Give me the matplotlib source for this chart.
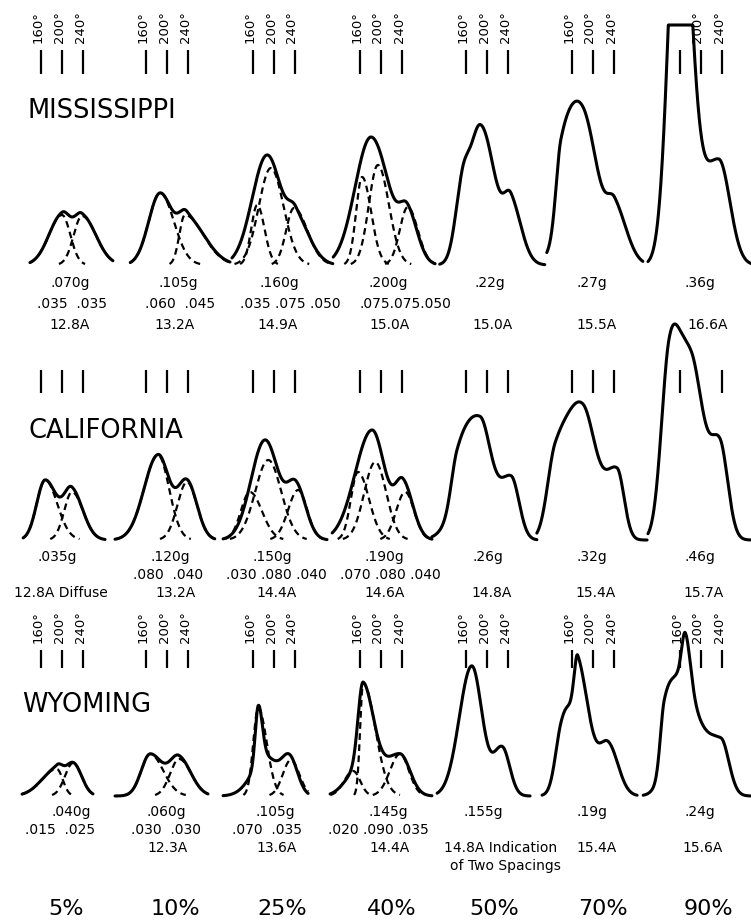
import numpy as np
import matplotlib
matplotlib.use("Agg")
import matplotlib.pyplot as plt

plt.rcParams['font.family'] = ['DejaVu Sans']

# ---------------- data ----------------
PERCENTS = ["5%", "10%", "25%", "40%", "50%", "70%", "90%"]
ROW_NAMES = ["MISSISSIPPI", "CALIFORNIA", "WYOMING"]
TICK_DEGREES = [160, 200, 240]

# peaks: (centre in degrees, height, sigma left, sigma right)
MISS_SOLID = [
    [(200, 50, 24.8, 15.8), (238, 49, 15.8, 26.7)],
    [(187, 72, 21.9, 24.8), (238, 45, 15.2, 35.2)],
    [(187, 110, 28.6, 28.0), (242, 42, 15.2, 26.7)],
    [(181, 128, 30.5, 34.3), (251, 45, 15.2, 19.0)],
    [(152, 50, 13.3, 11.4), (187, 140, 22.9, 28.6), (246, 55, 13.3, 20.0)],
    [(139, 70, 9.5, 22.9), (181, 145, 30.5, 28.6), (242, 52, 15.2, 22.9)],
    [(158, 420, 19.0, 21.9), (234, 105, 34.3, 21.0)],
]
MISS_DASHED = [
    [(200, 50, 24.8, 15.8), (238, 49, 15.8, 26.7)],
    [(187, 72, 21.9, 26.1), (234, 50, 10.5, 35.2)],
    [(168, 60, 11.4, 13.9), (194, 97, 22.9, 24.2), (238, 57, 14.9, 25.5)],
    [(164, 88, 11.4, 17.1), (194, 100, 17.1, 21.0), (251, 58, 15.2, 19.0)],
    [], [], [],
]
MISS_EXTENT = [(139, 297), (130, 320), (120, 312), (109, 303), (110, 310), (112, 295), (99, 299)]
MISS_CLIP = [None, None, None, None, None, None, 240]
MISS_TOTAL = [".070g", ".105g", ".160g", ".200g", ".22g", ".27g", ".36g"]
MISS_PARTS = [".035  .035", ".060  .045", ".035 .075 .050", ".075.075.050", "", "", ""]
MISS_SPACING = ["12.8A", "13.2A", "14.9A", "15.0A", "15.0A", "15.5A", "16.6A"]

CAL_SOLID = [
    [(168, 60, 16.2, 22.9), (219, 48, 14.9, 21.0)],
    [(183, 85, 26.7, 21.0), (238, 58, 18.1, 19.0)],
    [(183, 100, 26.7, 25.7), (242, 52, 17.1, 19.0)],
    [(183, 110, 32.4, 24.8), (242, 55, 15.2, 19.0)],
    [(143, 40, 11.4, 22.9), (187, 115, 34.3, 21.0), (246, 62, 22.9, 15.2)],
    [(128, 70, 15.2, 26.7), (181, 125, 30.5, 24.8), (246, 68, 22.9, 13.3)],
    [(139, 150, 15.2, 19.0), (181, 175, 26.7, 22.9), (236, 92, 19.0, 15.2)],
]
CAL_DASHED = [
    [(168, 60, 16.2, 22.9), (219, 48, 14.9, 21.0)],
    [(183, 85, 26.7, 21.0), (238, 58, 18.1, 19.0)],
    [(154, 48, 17.1, 22.9), (189, 80, 24.8, 24.8), (246, 50, 19.0, 17.1)],
    [(156, 68, 13.3, 21.0), (189, 78, 21.0, 21.0), (246, 48, 17.1, 17.1)],
    [], [], [],
]
CAL_EXTENT = [(126, 282), (101, 291), (103, 301), (107, 297), (95, 295), (93, 303), (99, 295)]
CAL_CLIP = [None] * 7
CAL_TOTAL = [".035g", ".120g", ".150g", ".190g", ".26g", ".32g", ".46g"]
CAL_PARTS = ["", ".080  .040", ".030 .080 .040", ".070 .080 .040", "", "", ""]
CAL_SPACING = ["12.8A Diffuse", "13.2A", "14.4A", "14.6A", "14.8A", "15.4A", "15.7A"]

WYO_SOLID = [
    [(190, 27, 28.6, 11.4), (221, 33, 15.2, 16.2)],
    [(168, 42, 17.1, 24.8), (223, 37, 17.1, 22.9)],
    [(170, 58, 5.7, 7.6), (185, 38, 26.7, 22.9), (230, 36, 15.2, 15.2)],
    [(166, 90, 9.5, 21.0), (154, 24, 22.9, 22.9), (236, 42, 30.5, 19.0)],
    [(171, 130, 23.8, 19.6), (229, 48, 17.1, 14.3)],
    [(139, 40, 11.4, 15.2), (162, 70, 19.0, 26.7), (171, 70, 6.7, 21.0), (229, 50, 17.1, 19.0)],
    [(130, 55, 7.6, 15.2), (162, 108, 22.9, 28.6), (170, 50, 6.7, 9.5), (238, 55, 34.3, 15.2)],
]
WYO_DASHED = [
    [(190, 27, 28.6, 11.4), (221, 33, 15.2, 16.2)],
    [(168, 42, 17.1, 24.8), (223, 37, 17.1, 22.9)],
    [(170, 88, 9.5, 16.2), (232, 36, 15.2, 16.2)],
    [(147, 25, 17.1, 13.3), (166, 113, 5.7, 22.9), (236, 42, 19.0, 17.1)],
    [], [], [],
]
WYO_EXTENT = [(124, 259), (101, 278), (103, 265), (103, 297), (105, 282), (103, 284), (90, 295)]
WYO_CLIP = [None] * 7
WYO_TOTAL = [".040g", ".060g", ".105g", ".145g", ".155g", ".19g", ".24g"]
WYO_PARTS = [".015  .025", ".030  .030", ".070  .035", ".020 .090 .035", "", "", ""]
WYO_SPACING = ["", "12.3A", "13.6A", "14.4A", "14.8A Indication", "15.4A", "15.6A"]
WYO_NOTE = ["", "", "", "", "of Two Spacings", "", ""]

# ---------------- layout (pixels) ----------------
W, H = 751, 922
COL_X = [62, 167, 274, 381, 487, 593, 701]        # pixel position of the 200 deg mark
PX_PER_DEG = 21 / 40
BASE_Y = [265, 540, 796]
TOP_Y = [0, 300, 585]
TICK_SPAN = [(191, 215), (147, 170), (128, 146)]
LABEL_BOTTOM = [222, None, 153]
ROW_LABEL_POS = [(28, 118), (28, 438), (22, 712)]
TEXT_Y = [[283, 304, 325, None], [557, 575, 593, None], [812, 830, 848, 866]]
TOTAL_X = [[70, 178, 279, 388, 490, 592, 700],
           [57, 170, 272, 384, 488, 592, 700],
           [71, 166, 275, 388, 483, 592, 700]]
PARTS_X = [[72, 180, 290, 405, 0, 0, 0],
           [0, 168, 276, 390, 0, 0, 0],
           [60, 166, 267, 378, 0, 0, 0]]
SPACING_X = [[70, 175, 278, 390, 493, 597, 708],
             [61, 176, 277, 385, 492, 596, 704],
             [0, 168, 277, 390, 501, 597, 703]]
NOTE_X = [0, 0, 0, 0, 505, 0, 0]
PERCENT_X = [66, 175, 282, 392, 494, 603, 708]
PERCENT_Y = 909

ROWS = [
    dict(solid=MISS_SOLID, dashed=MISS_DASHED, ext=MISS_EXTENT, clip=MISS_CLIP,
         total=MISS_TOTAL, parts=MISS_PARTS, spacing=MISS_SPACING, note=None),
    dict(solid=CAL_SOLID, dashed=CAL_DASHED, ext=CAL_EXTENT, clip=CAL_CLIP,
         total=CAL_TOTAL, parts=CAL_PARTS, spacing=CAL_SPACING, note=None),
    dict(solid=WYO_SOLID, dashed=WYO_DASHED, ext=WYO_EXTENT, clip=WYO_CLIP,
         total=WYO_TOTAL, parts=WYO_PARTS, spacing=WYO_SPACING, note=WYO_NOTE),
]


def profile(x, peaks):
    y = np.zeros_like(x)
    for c, h, sl, sr in peaks:
        s = np.where(x < c, sl, sr)
        y += h * np.exp(-0.5 * ((x - c) / s) ** 2)
    return y


fig = plt.figure(figsize=(W / 100, H / 100), dpi=100)
fig.patch.set_facecolor("white")


def fx(x):
    return x / W


def fy(y):
    return 1 - y / H


half = 70
for r, row in enumerate(ROWS):
    height = BASE_Y[r] - TOP_Y[r]
    for c in range(7):
        ax = fig.add_axes([fx(COL_X[c] - half), fy(BASE_Y[r]), 2 * half / W, height / H])
        ax.set_xlim(200 - half / PX_PER_DEG, 200 + half / PX_PER_DEG)
        ax.set_ylim(0, height)
        ax.axis("off")
        ax.patch.set_alpha(0)

        x0, x1 = row["ext"][c]
        x = np.linspace(x0, x1, 600)
        y = profile(x, row["solid"][c])
        if row["clip"][c] is not None:
            y = np.minimum(y, row["clip"][c])
        ax.plot(x, y, color="black", lw=2.2, clip_on=False,
                solid_capstyle="round", solid_joinstyle="round")

        for comp in row["dashed"][c]:
            yc = profile(x, [comp])
            yc = np.where(yc > 1.0, yc, np.nan)
            ax.plot(x, yc, color="black", lw=1.6, ls=(0, (3.0, 2.0)), clip_on=False)

        # degree marks
        ticks = list(TICK_DEGREES)
        if r == 1 and c == 6:
            ticks = [160, 240]
        t0, t1 = TICK_SPAN[r]
        ax.vlines(ticks, t0, t1, color="black", lw=1.6)
        if LABEL_BOTTOM[r] is not None:
            labels = list(TICK_DEGREES)
            if r == 0 and c == 6:
                labels = [200, 240]
            for d in labels:
                ax.text(d - 3 / PX_PER_DEG, LABEL_BOTTOM[r], f"{d}°", rotation=90,
                        ha="center", va="bottom", fontsize=9.5, clip_on=False)

    # texts below curves
    ty = TEXT_Y[r]
    for c in range(7):
        fig.text(fx(TOTAL_X[r][c]), fy(ty[0]), row["total"][c], ha="center", va="center", fontsize=10)
        if row["parts"][c]:
            fig.text(fx(PARTS_X[r][c]), fy(ty[1]), row["parts"][c], ha="center", va="center", fontsize=10)
        if row["spacing"][c]:
            fig.text(fx(SPACING_X[r][c]), fy(ty[2]), row["spacing"][c], ha="center", va="center", fontsize=10)
        if row["note"] is not None and row["note"][c]:
            fig.text(fx(NOTE_X[c]), fy(ty[3]), row["note"][c], ha="center", va="center", fontsize=10)

    lx, ly = ROW_LABEL_POS[r]
    fig.text(fx(lx), fy(ly), ROW_NAMES[r], ha="left", va="baseline", fontsize=18.5)

for c in range(7):
    fig.text(fx(PERCENT_X[c]), fy(PERCENT_Y), PERCENTS[c], ha="center", va="center", fontsize=16)

fig.savefig("out.png", dpi=100, facecolor="white")
